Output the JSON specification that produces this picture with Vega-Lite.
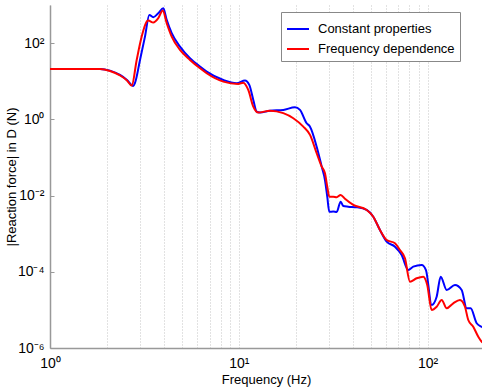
{
  "$schema": "https://vega.github.io/schema/vega-lite/v6.json",
  "autosize": "none",
  "width": 432,
  "height": 343,
  "padding": {"left": 50, "top": 5, "right": 0, "bottom": 41},
  "background": "white",
  "config": {
    "view": {"stroke": null},
    "font": "Liberation Sans",
    "axis": {"labelFont": "Liberation Sans", "titleFont": "Liberation Sans", "labelColor": "black", "titleColor": "black", "titleFontWeight": "normal", "domainColor": "#999999", "domainWidth": 1.5}
  },
  "data": {"values": [
    {"f":1,"v":21,"s":"Constant properties"},
    {"f":1.356,"v":21,"s":"Constant properties"},
    {"f":1.84,"v":21,"s":"Constant properties"},
    {"f":2.078,"v":19,"s":"Constant properties"},
    {"f":2.348,"v":14.6,"s":"Constant properties"},
    {"f":2.557,"v":10.8,"s":"Constant properties"},
    {"f":2.761,"v":7.5,"s":"Constant properties"},
    {"f":2.819,"v":9.0,"s":"Constant properties"},
    {"f":2.997,"v":36,"s":"Constant properties"},
    {"f":3.184,"v":148,"s":"Constant properties"},
    {"f":3.357,"v":550,"s":"Constant properties"},
    {"f":3.524,"v":479,"s":"Constant properties"},
    {"f":3.746,"v":610,"s":"Constant properties"},
    {"f":3.981,"v":824,"s":"Constant properties"},
    {"f":4.15,"v":406,"s":"Constant properties"},
    {"f":4.411,"v":182,"s":"Constant properties"},
    {"f":4.88,"v":81,"s":"Constant properties"},
    {"f":5.512,"v":40.2,"s":"Constant properties"},
    {"f":6.227,"v":24.2,"s":"Constant properties"},
    {"f":6.756,"v":17.9,"s":"Constant properties"},
    {"f":8.275,"v":10.8,"s":"Constant properties"},
    {"f":9.742,"v":8.87,"s":"Constant properties"},
    {"f":10.78,"v":10.4,"s":"Constant properties"},
    {"f":11.36,"v":8.0,"s":"Constant properties"},
    {"f":11.93,"v":3.23,"s":"Constant properties"},
    {"f":12.43,"v":1.59,"s":"Constant properties"},
    {"f":12.94,"v":1.5,"s":"Constant properties"},
    {"f":14.62,"v":1.69,"s":"Constant properties"},
    {"f":17.2,"v":1.77,"s":"Constant properties"},
    {"f":19.83,"v":2.08,"s":"Constant properties"},
    {"f":21.08,"v":1.77,"s":"Constant properties"},
    {"f":22.87,"v":0.79,"s":"Constant properties"},
    {"f":23.82,"v":0.643,"s":"Constant properties"},
    {"f":25.84,"v":0.192,"s":"Constant properties"},
    {"f":27.47,"v":0.0574,"s":"Constant properties"},
    {"f":28.59,"v":0.0256,"s":"Constant properties"},
    {"f":29.4,"v":0.00935,"s":"Constant properties"},
    {"f":30.13,"v":0.00377,"s":"Constant properties"},
    {"f":31.63,"v":0.0038,"s":"Constant properties"},
    {"f":32.97,"v":0.0037,"s":"Constant properties"},
    {"f":34.62,"v":0.00692,"s":"Constant properties"},
    {"f":35.74,"v":0.00533,"s":"Constant properties"},
    {"f":37.97,"v":0.00512,"s":"Constant properties"},
    {"f":42.07,"v":0.00493,"s":"Constant properties"},
    {"f":47.53,"v":0.00419,"s":"Constant properties"},
    {"f":51.52,"v":0.00279,"s":"Constant properties"},
    {"f":55.9,"v":0.00125,"s":"Constant properties"},
    {"f":60.67,"v":0.000617,"s":"Constant properties"},
    {"f":67.13,"v":0.000456,"s":"Constant properties"},
    {"f":72.84,"v":0.000276,"s":"Constant properties"},
    {"f":78.94,"v":0.000111,"s":"Constant properties"},
    {"f":83.9,"v":0.000136,"s":"Constant properties"},
    {"f":92.95,"v":0.000151,"s":"Constant properties"},
    {"f":97.95,"v":0.000111,"s":"Constant properties"},
    {"f":105,"v":0.0000135,"s":"Constant properties"},
    {"f":111.6,"v":0.0000222,"s":"Constant properties"},
    {"f":117.2,"v":0.0000743,"s":"Constant properties"},
    {"f":126.1,"v":0.0000333,"s":"Constant properties"},
    {"f":139.5,"v":0.0000451,"s":"Constant properties"},
    {"f":151.4,"v":0.0000333,"s":"Constant properties"},
    {"f":160.9,"v":0.000011,"s":"Constant properties"},
    {"f":168.9,"v":0.000011,"s":"Constant properties"},
    {"f":181.8,"v":0.00000445,"s":"Constant properties"},
    {"f":193.9,"v":0.00000356,"s":"Constant properties"},
    {"f":200,"v":0.0000033,"s":"Constant properties"},
    {"f":1,"v":21,"s":"Frequency dependence"},
    {"f":1.356,"v":21,"s":"Frequency dependence"},
    {"f":1.84,"v":21,"s":"Frequency dependence"},
    {"f":2.078,"v":18.6,"s":"Frequency dependence"},
    {"f":2.348,"v":14.2,"s":"Frequency dependence"},
    {"f":2.557,"v":10.5,"s":"Frequency dependence"},
    {"f":2.709,"v":7.67,"s":"Frequency dependence"},
    {"f":2.878,"v":36.2,"s":"Frequency dependence"},
    {"f":3.059,"v":148,"s":"Frequency dependence"},
    {"f":3.251,"v":367,"s":"Frequency dependence"},
    {"f":3.315,"v":390,"s":"Frequency dependence"},
    {"f":3.524,"v":345,"s":"Frequency dependence"},
    {"f":3.746,"v":451,"s":"Frequency dependence"},
    {"f":3.953,"v":713,"s":"Frequency dependence"},
    {"f":4.15,"v":333,"s":"Frequency dependence"},
    {"f":4.411,"v":148,"s":"Frequency dependence"},
    {"f":4.88,"v":66.3,"s":"Frequency dependence"},
    {"f":5.512,"v":36.2,"s":"Frequency dependence"},
    {"f":6.227,"v":21.9,"s":"Frequency dependence"},
    {"f":6.756,"v":16.2,"s":"Frequency dependence"},
    {"f":8.275,"v":9.77,"s":"Frequency dependence"},
    {"f":9.93,"v":8.49,"s":"Frequency dependence"},
    {"f":10.56,"v":9.18,"s":"Frequency dependence"},
    {"f":11.22,"v":5.91,"s":"Frequency dependence"},
    {"f":11.93,"v":2.15,"s":"Frequency dependence"},
    {"f":12.68,"v":1.5,"s":"Frequency dependence"},
    {"f":14.62,"v":1.69,"s":"Frequency dependence"},
    {"f":17.2,"v":1.45,"s":"Frequency dependence"},
    {"f":19.43,"v":1.07,"s":"Frequency dependence"},
    {"f":21.95,"v":0.643,"s":"Frequency dependence"},
    {"f":23.82,"v":0.39,"s":"Frequency dependence"},
    {"f":25.84,"v":0.129,"s":"Frequency dependence"},
    {"f":27.47,"v":0.0574,"s":"Frequency dependence"},
    {"f":28.59,"v":0.0385,"s":"Frequency dependence"},
    {"f":29.4,"v":0.0171,"s":"Frequency dependence"},
    {"f":30.13,"v":0.00935,"s":"Frequency dependence"},
    {"f":31.63,"v":0.00935,"s":"Frequency dependence"},
    {"f":32.97,"v":0.00901,"s":"Frequency dependence"},
    {"f":34.62,"v":0.0104,"s":"Frequency dependence"},
    {"f":36.48,"v":0.0082,"s":"Frequency dependence"},
    {"f":40.37,"v":0.00566,"s":"Frequency dependence"},
    {"f":47.53,"v":0.00419,"s":"Frequency dependence"},
    {"f":51.52,"v":0.00279,"s":"Frequency dependence"},
    {"f":55.9,"v":0.00125,"s":"Frequency dependence"},
    {"f":60.67,"v":0.000684,"s":"Frequency dependence"},
    {"f":67.13,"v":0.00056,"s":"Frequency dependence"},
    {"f":71.34,"v":0.000373,"s":"Frequency dependence"},
    {"f":75.83,"v":0.000226,"s":"Frequency dependence"},
    {"f":80.58,"v":0.000055,"s":"Frequency dependence"},
    {"f":87.47,"v":0.0000675,"s":"Frequency dependence"},
    {"f":94.78,"v":0.0000743,"s":"Frequency dependence"},
    {"f":99.5,"v":0.0000451,"s":"Frequency dependence"},
    {"f":105,"v":0.00000993,"s":"Frequency dependence"},
    {"f":111.6,"v":0.0000121,"s":"Frequency dependence"},
    {"f":118.7,"v":0.0000182,"s":"Frequency dependence"},
    {"f":126.1,"v":0.000011,"s":"Frequency dependence"},
    {"f":136.6,"v":0.0000149,"s":"Frequency dependence"},
    {"f":148.3,"v":0.0000182,"s":"Frequency dependence"},
    {"f":157.6,"v":0.0000121,"s":"Frequency dependence"},
    {"f":164.1,"v":0.00000543,"s":"Frequency dependence"},
    {"f":174.4,"v":0.00000362,"s":"Frequency dependence"},
    {"f":185.4,"v":0.00000198,"s":"Frequency dependence"},
    {"f":193.9,"v":0.00000144,"s":"Frequency dependence"},
    {"f":200,"v":0.0000013,"s":"Frequency dependence"}
  ]},
  "mark": {"type": "line", "strokeWidth": 2, "clip": true, "interpolate": "monotone"},
  "encoding": {
    "x": {
      "field": "f", "type": "quantitative",
      "scale": {"type": "log", "domain": [1, 194], "nice": false},
      "axis": {
        "title": "Frequency (Hz)", "titleFontSize": 13, "titlePadding": 3,
        "values": [1,2,3,4,5,6,7,8,9,10,20,30,40,50,60,70,80,90,100],
        "labelExpr": "datum.value == 1 ? '10⁰' : datum.value == 10 ? '10¹' : datum.value == 100 ? '10²' : ''",
        "labelFontSize": 14, "labelPadding": 8, "labelOverlap": false, "labelFlush": false,
        "ticks": false,
        "grid": true, "gridDash": [1, 2], "gridColor": "#c4c4c4", "gridWidth": 1
      }
    },
    "y": {
      "field": "v", "type": "quantitative",
      "scale": {"type": "log", "domain": [0.000001, 1000], "nice": false},
      "axis": {
        "title": "|Reaction force| in D (N)", "titleFontSize": 13, "titlePadding": -1,
        "values": [0.000001, 0.0001, 0.01, 1, 100],
        "labelExpr": "datum.value >= 99 ? '10²' : datum.value >= 0.99 ? '10⁰' : datum.value >= 0.0099 ? '10⁻²' : datum.value >= 0.000099 ? '10⁻⁴' : '10⁻⁶'",
        "labelFontSize": 14, "labelPadding": 10, "labelOverlap": false, "labelFlush": false,
        "ticks": true, "tickSize": -4, "tickColor": "#999999",
        "grid": false
      }
    },
    "color": {
      "field": "s", "type": "nominal",
      "scale": {"domain": ["Constant properties", "Frequency dependence"], "range": ["#0000ff", "#ff0000"]},
      "legend": {
        "title": null, "orient": "none", "legendX": 231, "legendY": 7,
        "strokeColor": "#888888", "fillColor": "white", "padding": 5,
        "symbolType": "stroke", "symbolSize": 484, "symbolStrokeWidth": 2,
        "labelFontSize": 13, "labelFont": "Liberation Sans", "labelColor": "black",
        "labelOffset": 8, "rowPadding": 1
      }
    }
  }
}
